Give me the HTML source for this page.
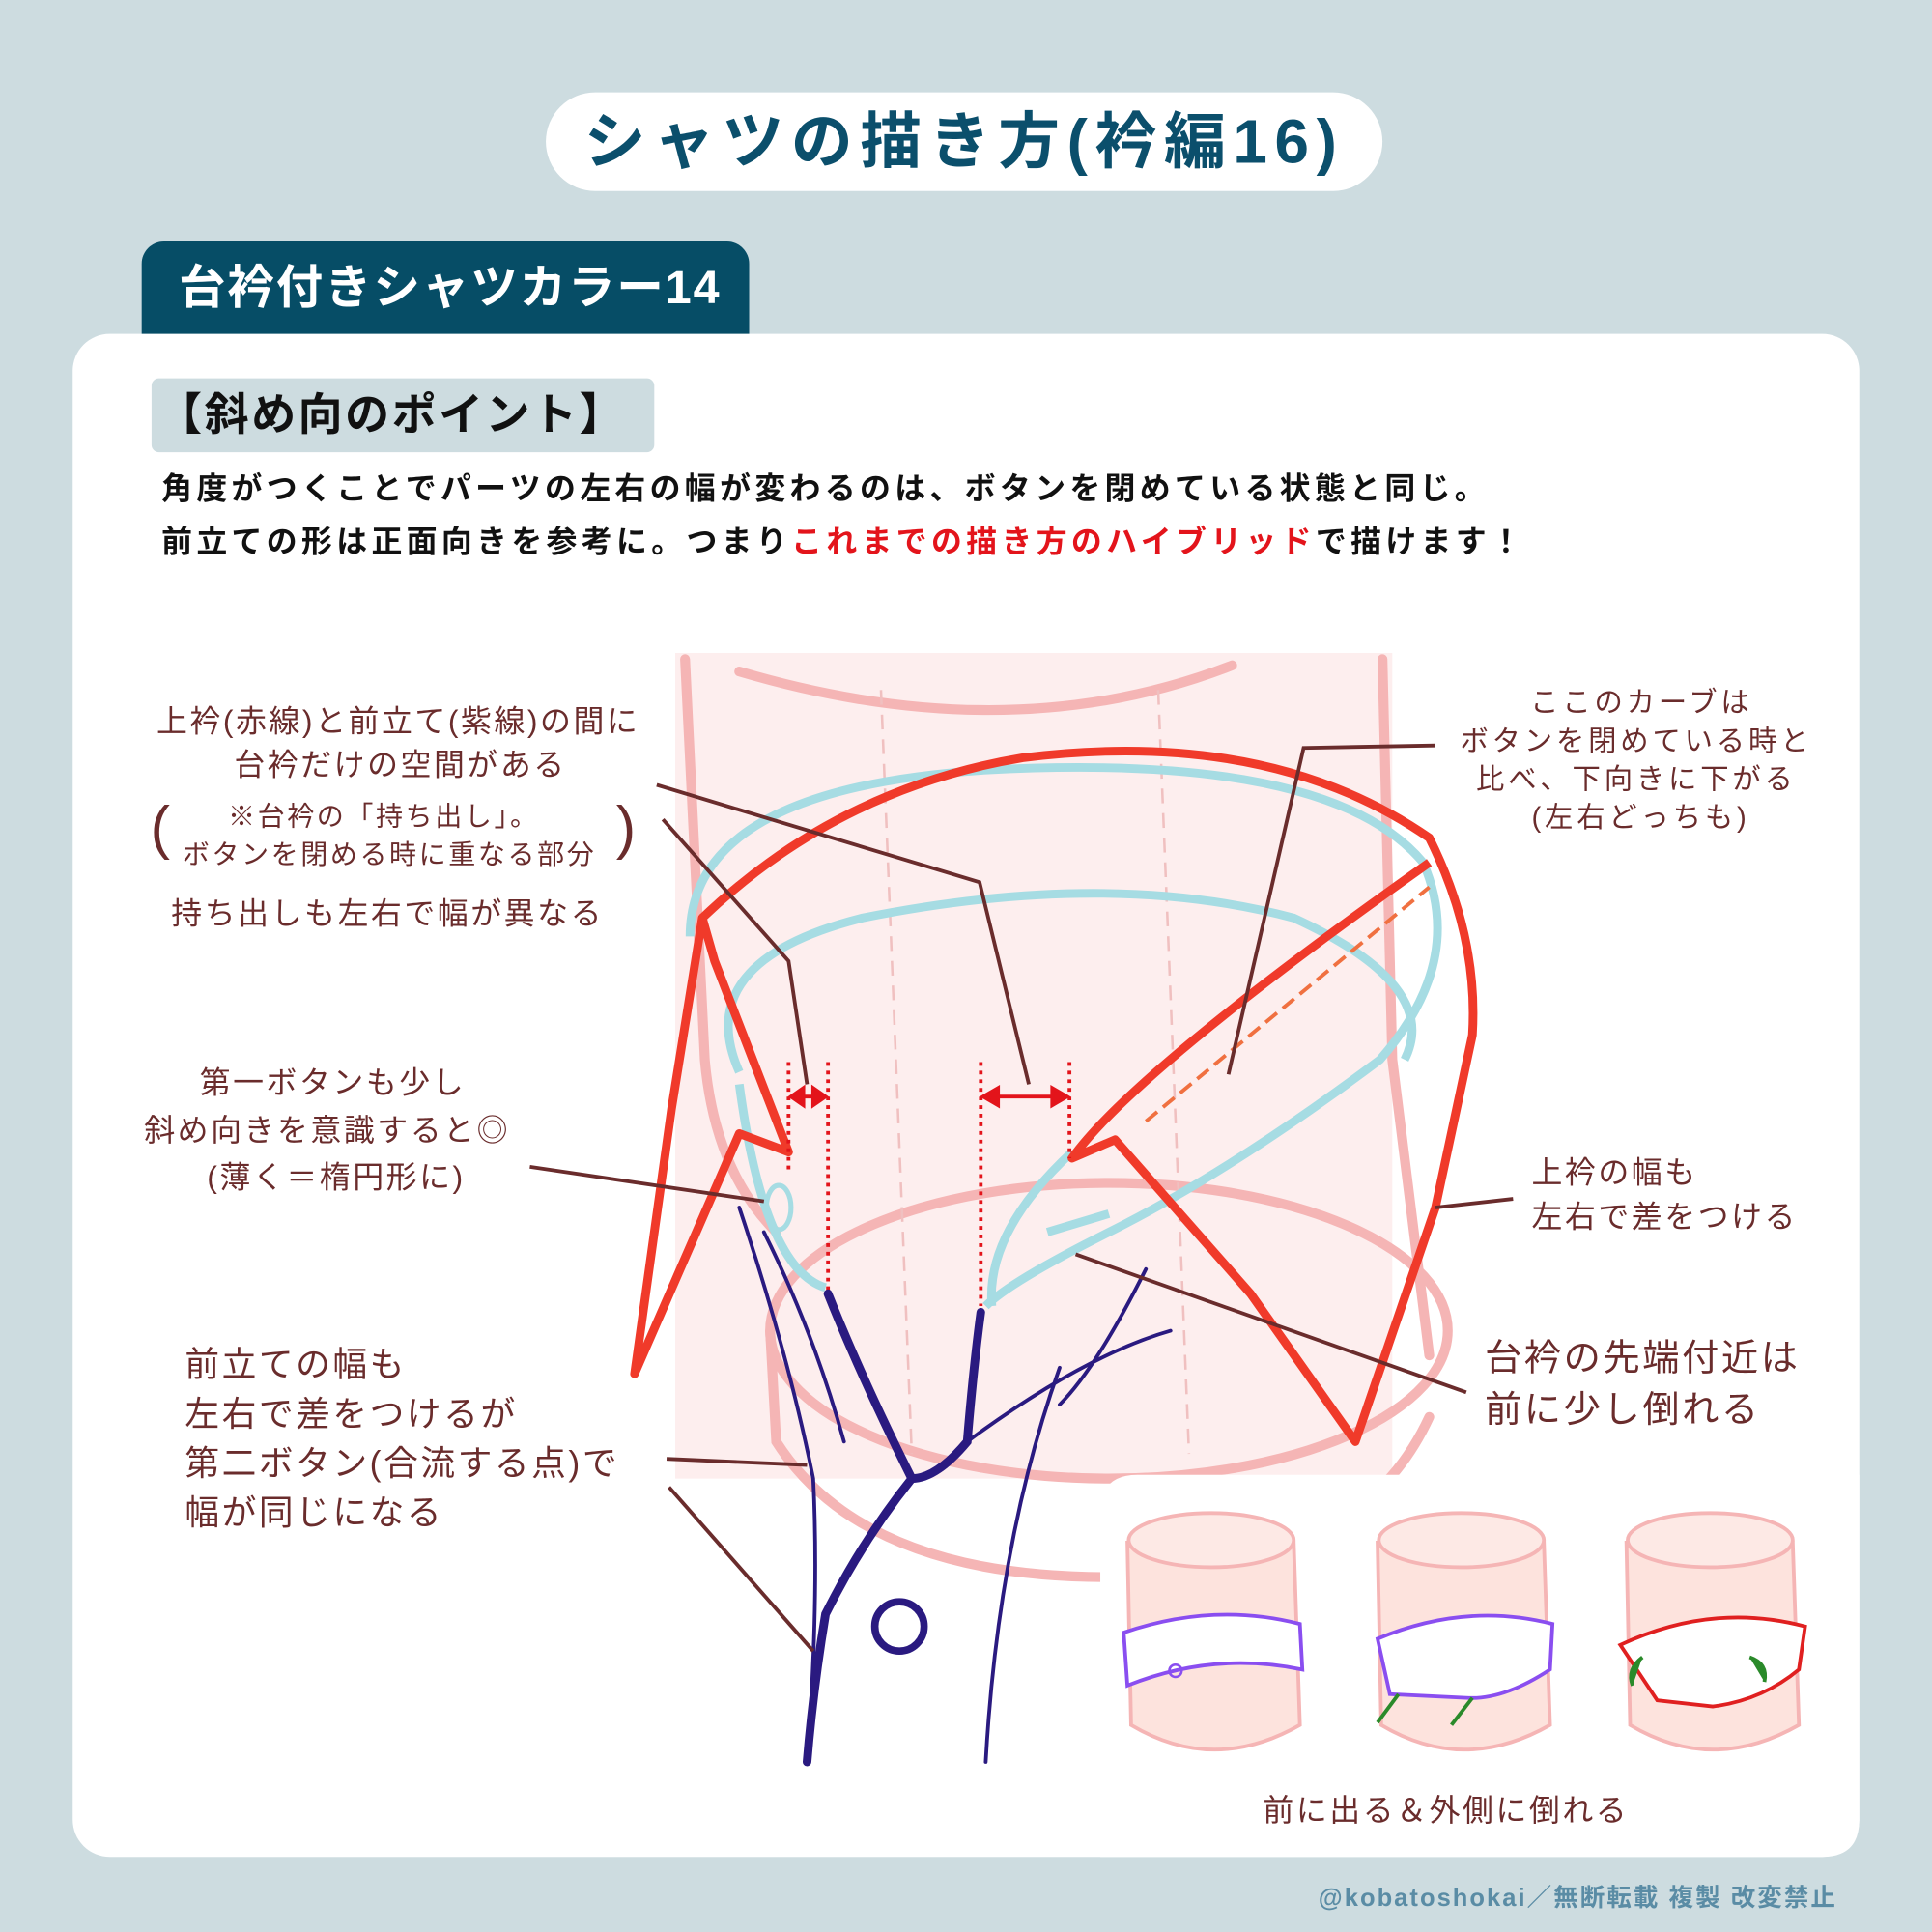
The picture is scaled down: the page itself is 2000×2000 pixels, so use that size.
<!DOCTYPE html>
<html><head><meta charset="utf-8"><style>
html,body{margin:0;padding:0;}
body{width:2000px;height:2000px;overflow:hidden;background:#cddce0;}
#w{position:absolute;left:0;top:0;width:1568px;height:1568px;transform:scale(1.27551);transform-origin:0 0;font-family:"Liberation Sans","Noto Sans CJK JP",sans-serif;}
.a{position:absolute;white-space:nowrap;}
.n{color:#6a2c2c;font-size:25px;letter-spacing:2px;line-height:36px;}
</style></head><body><div id="w">
<div class="a" style="left:443px;top:75px;width:679px;height:80px;background:#fff;border-radius:40px;"></div>
<div class="a" style="left:443px;top:80px;width:679px;text-align:center;font-size:50px;font-weight:bold;color:#0b4f6c;line-height:70px;letter-spacing:6px;">シャツの描き方(衿編16)</div>
<div class="a" style="left:115px;top:196px;width:493px;height:80px;background:#064d66;border-radius:18px 18px 0 0;"></div>
<div class="a" style="left:145px;top:208px;font-size:38px;font-weight:bold;color:#fff;line-height:52px;letter-spacing:1.5px;">台衿付きシャツカラー14</div>
<div class="a" style="left:59px;top:271px;width:1450px;height:1236px;background:#fff;border-radius:30px;"></div>
<div class="a" style="left:123px;top:307px;width:408px;height:60px;background:#cddce0;border-radius:6px;"></div>
<div class="a" style="left:128px;top:311px;font-size:36px;font-weight:bold;color:#111;line-height:52px;letter-spacing:2px;">【斜め向のポイント】</div>
<div class="a" style="left:131px;top:376px;font-size:25px;font-weight:bold;color:#111;line-height:43px;letter-spacing:3.4px;">角度がつくことでパーツの左右の幅が変わるのは、ボタンを閉めている状態と同じ。<br>前立ての形は正面向きを参考に。つまり<span style="color:#e3141b">これまでの描き方のハイブリッド</span>で描けます！</div>

<svg class="a" style="left:0;top:0" width="1568" height="1568" viewBox="0 0 1568 1568">
<rect x="548" y="530" width="582" height="670" fill="#fdeeee"/>
<g fill="none" stroke="#f5b5b5" stroke-width="8" stroke-linecap="round">
<path d="M556 535 L572 860 Q580 950 630 1000"/>
<path d="M1122 535 L1130 860 L1160 1100"/>
<path d="M600 545 Q820 610 1000 540"/>
<ellipse cx="900" cy="1080" rx="275" ry="120"/>
<path d="M625 1080 L630 1170 Q700 1280 900 1280 Q1100 1280 1160 1150"/>
</g>
<g fill="none" stroke="#f0c0c0" stroke-width="2" stroke-dasharray="12 8">
<path d="M715 560 L740 1180"/><path d="M940 560 L965 1180"/>
</g>
<g fill="none" stroke="#a6dce3" stroke-width="7">
<path d="M560 760 Q560 640 800 625 Q1080 610 1155 700 Q1190 780 1120 860 Q1000 950 900 1000 Q820 1040 800 1060"/>
<path d="M600 870 Q560 780 700 745 Q900 705 1050 745 Q1170 800 1140 860"/>
<path d="M600 880 Q620 1030 670 1045"/>
<path d="M805 1060 Q800 1000 870 935"/>
<path d="M850 1000 L900 985"/>
</g>
<g fill="none" stroke="#f03a2a" stroke-width="7" stroke-linejoin="round">
<path d="M570 745 Q680 640 830 615 Q1030 590 1160 680 Q1200 760 1195 840 L1165 980 L1100 1170 L1015 1050 L905 925 L870 940 Q920 870 1160 700"/>
<path d="M570 745 L580 780 L640 935 L600 920 L515 1115 L545 900 Z"/>
</g>
<path d="M930 910 L1160 720" stroke="#f07040" stroke-width="3" stroke-dasharray="12 6" fill="none"/>
<g stroke="#e3141b" stroke-width="3" stroke-dasharray="3 4" fill="none">
<path d="M640 862 V950"/><path d="M672 862 V1050"/><path d="M796 862 V1060"/><path d="M868 862 V940"/>
</g>
<g stroke="#e3141b" stroke-width="3" fill="#e3141b">
<path d="M642 890 H670"/><path d="M798 890 H866"/>
<path d="M642 890 l10 -7 v14 z"/><path d="M670 890 l-10 -7 v14 z"/>
<path d="M798 890 l12 -7 v14 z"/><path d="M866 890 l-12 -7 v14 z"/>
</g>
<g fill="none" stroke="#2a1a80" stroke-linecap="round">
<path d="M672 1050 Q700 1120 740 1200 Q700 1250 670 1310 Q660 1370 655 1430" stroke-width="7"/>
<path d="M796 1065 Q790 1110 785 1170 Q760 1200 740 1200" stroke-width="7"/>
<path d="M600 980 Q640 1100 660 1200 Q665 1300 655 1430" stroke-width="3"/>
<path d="M620 1000 Q660 1080 685 1170" stroke-width="3"/>
<path d="M785 1170 Q880 1100 950 1080" stroke-width="3"/>
<path d="M860 1110 Q810 1250 800 1430" stroke-width="3"/>
<path d="M930 1030 Q890 1110 860 1140" stroke-width="3"/>
<circle cx="730" cy="1320" r="20" stroke-width="6"/>
</g>
<ellipse cx="632" cy="980" rx="10" ry="18" fill="none" stroke="#a6dce3" stroke-width="4"/>
<g fill="none" stroke="#6a2c2c" stroke-width="3">
<path d="M533 637 L795 716 L835 880"/>
<path d="M538 665 L640 780 L655 880"/>
<path d="M1165 605 L1058 607 L997 872"/>
<path d="M430 947 L620 975"/>
<path d="M1228 973 L1165 980"/>
<path d="M873 1018 L1190 1130"/>
<path d="M541 1184 L655 1189"/>
<path d="M543 1207 L660 1340"/>
</g>
<path d="M893 1507 V1227 Q893 1197 923 1197 H1509 V1477 Q1509 1507 1479 1507 Z" fill="#fff"/>
<g id="cyl">
<path d="M915 1252 L918 1400 Q985 1440 1055 1400 L1050 1252 Z" fill="#fde3dd" stroke="#f5b5b5" stroke-width="3"/>
<ellipse cx="983" cy="1250" rx="67" ry="22" fill="#fde9e5" stroke="#f5b5b5" stroke-width="3"/>
</g>
<use href="#cyl" x="203"/><use href="#cyl" x="405"/>
<path d="M912 1325 Q985 1300 1055 1318 L1057 1355 Q985 1340 915 1368 Z" fill="#fff" stroke="#8a4ef0" stroke-width="3"/>
<circle cx="954" cy="1356" r="5" fill="none" stroke="#8a4ef0" stroke-width="2"/>
<path d="M1118 1330 Q1190 1300 1260 1318 L1258 1355 Q1220 1380 1190 1378 L1128 1375 Z" fill="#fff" stroke="#8a4ef0" stroke-width="3"/>
<path d="M1315 1335 Q1390 1300 1465 1320 L1460 1355 Q1430 1380 1390 1385 L1345 1380 Z" fill="#fff" stroke="#e02020" stroke-width="3"/>
<g stroke="#2a8a2a" stroke-width="3" fill="#2a8a2a">
<path d="M1135 1375 L1118 1398"/><path d="M1195 1378 L1178 1400"/>
<path d="M1333 1345 Q1320 1355 1325 1368"/><path d="M1420 1345 Q1435 1350 1432 1365"/>
</g>
</svg>

<div class="a n" style="left:127px;top:568px;">上衿(赤線)と前立て(紫線)の間に</div>
<div class="a n" style="left:190px;top:603px;">台衿だけの空間がある</div>
<div class="a" style="left:122px;top:645px;font-size:48px;color:#6a2c2c;">(</div>
<div class="a" style="left:500px;top:645px;font-size:48px;color:#6a2c2c;">)</div>
<div class="a n" style="left:185px;top:645px;font-size:22px;">※台衿の「持ち出し」。</div>
<div class="a n" style="left:148px;top:676px;font-size:22px;">ボタンを閉める時に重なる部分</div>
<div class="a n" style="left:139px;top:724px;">持ち出しも左右で幅が異なる</div>
<div class="a n" style="left:1242px;top:552px;font-size:23px;letter-spacing:3px;">ここのカーブは</div>
<div class="a n" style="left:1185px;top:583px;font-size:23px;letter-spacing:3px;">ボタンを閉めている時と</div>
<div class="a n" style="left:1198px;top:614px;font-size:23px;letter-spacing:3px;">比べ、下向きに下がる</div>
<div class="a n" style="left:1243px;top:645px;font-size:23px;letter-spacing:3px;">(左右どっちも)</div>
<div class="a n" style="left:162px;top:861px;">第一ボタンも少し</div>
<div class="a n" style="left:117px;top:900px;">斜め向きを意識すると◎</div>
<div class="a n" style="left:168px;top:938px;">(薄く＝楕円形に)</div>
<div class="a n" style="left:1243px;top:934px;">上衿の幅も</div>
<div class="a n" style="left:1243px;top:970px;">左右で差をつける</div>
<div class="a n" style="left:1205px;top:1082px;font-size:30px;line-height:42px;">台衿の先端付近は<br>前に少し倒れる</div>
<div class="a n" style="left:150px;top:1088px;font-size:28px;line-height:40px;">前立ての幅も<br>左右で差をつけるが<br>第二ボタン(合流する点)で<br>幅が同じになる</div>
<div class="a n" style="left:1025px;top:1452px;">前に出る＆外側に倒れる</div>
<div class="a" style="left:1070px;top:1524px;font-size:20px;color:#5a8ca5;font-weight:bold;letter-spacing:1.6px;">@kobatoshokai／無断転載 複製 改変禁止</div>
</div></body></html>
